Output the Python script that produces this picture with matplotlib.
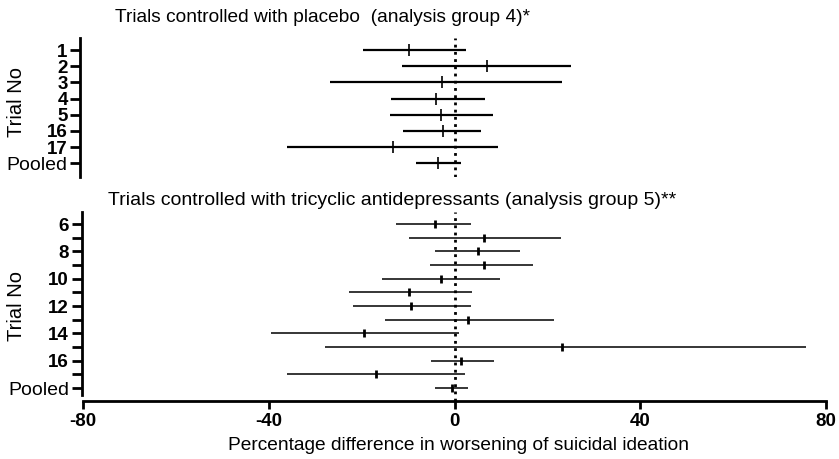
import matplotlib
matplotlib.use("Agg")
import matplotlib.pyplot as plt

# --------------------------------------------------------------------------- #
# Data (percentage difference, estimate with lower/upper limits)
# --------------------------------------------------------------------------- #

placebo_trials = ["1", "2", "3", "4", "5", "16", "17", "Pooled"]
placebo_est = [-9.7, 6.9, -2.6, -3.9, -3.0, -2.4, -13.2, -3.5]
placebo_low = [-19.7, -11.2, -26.8, -13.6, -13.8, -11.0, -36.0, -8.2]
placebo_high = [2.4, 25.0, 23.1, 6.5, 8.2, 5.8, 9.3, 1.3]

tca_trials = ["6", "7", "8", "9", "10", "11", "12", "13", "14", "15", "16", "17", "Pooled"]
tca_labels = ["6", "", "8", "", "10", "", "12", "", "14", "", "16", "", "Pooled"]
tca_est = [-4.3, 6.3, 5.0, 6.3, -2.8, -9.9, -9.3, 2.8, -19.4, 23.1, 1.5, -16.8, -0.6]
tca_low = [-12.7, -9.9, -4.3, -5.2, -15.6, -22.7, -21.8, -14.9, -39.5, -27.9, -5.0, -36.0, -4.1]
tca_high = [3.5, 22.9, 14.0, 17.0, 9.9, 3.7, 3.5, 21.4, 0.9, 75.8, 8.4, 2.2, 2.8]

xticks = [-80, -40, 0, 40, 80]

# --------------------------------------------------------------------------- #
# Plotting
# --------------------------------------------------------------------------- #

plt.rcParams["font.family"] = ["Liberation Sans", "DejaVu Sans"]

W, H = 839, 459
fig = plt.figure(figsize=(W / 100, H / 100), dpi=100)


def px_axes(left, top, right, bottom):
    return fig.add_axes([left / W, 1 - bottom / H, (right - left) / W, (bottom - top) / H])


def forest(ax, labels, est, low, high, lw, ms, mew):
    rows = list(range(len(est)))
    ax.hlines(rows, low, high, color="black", lw=lw)
    ax.plot(est, rows, ls="none", marker="|", ms=ms, mew=mew, color="black")
    ax.axvline(0, color="black", ls=(0, (1, 1.6)), lw=2.0)
    ax.set_xlim(-80, 80)
    ax.tick_params(axis="y", length=7, width=2, pad=2, labelsize=13.5)
    ax.set_yticks(rows)
    ax.set_yticklabels(labels, fontsize=13.5)
    ax.spines["left"].set_linewidth(2)
    for s in ["top", "right"]:
        ax.spines[s].set_visible(False)


def style_labels(ax):
    # digits bold, "Pooled" in regular weight and a touch larger
    for t in ax.get_yticklabels():
        if t.get_text() == "Pooled":
            t.set_fontsize(14)
            t.set_fontweight("normal")
        else:
            t.set_fontweight("bold")


# top panel: placebo
ax1 = px_axes(83, 38, 826, 177)
forest(ax1, placebo_trials, placebo_est, placebo_low, placebo_high, lw=1.6, ms=9, mew=1.2)
ax1.set_ylim(7.85, -0.75)
ax1.spines["bottom"].set_visible(False)
ax1.set_xticks([])
ax1.spines["left"].set_position(("outward", 2))
style_labels(ax1)

# bottom panel: tricyclic antidepressants
ax2 = px_axes(83, 212, 826, 401)
forest(ax2, tca_labels, tca_est, tca_low, tca_high, lw=1.1, ms=6, mew=2.0)
ax2.set_ylim(12.95, -0.88)
ax2.spines["left"].set_bounds(12.5, -0.88)
ax2.spines["left"].set_position(("outward", 1))
ax2.spines["bottom"].set_linewidth(2)
ax2.tick_params(axis="x", length=6, width=2, pad=3)
ax2.set_xticks(xticks)
ax2.set_xticklabels([str(v) for v in xticks], fontsize=13.5, fontweight="bold")
style_labels(ax2)

# titles and labels
fig.text(115 / W, 1 - 17 / H, "Trials controlled with placebo  (analysis group 4)*",
         fontsize=13.8, ha="left", va="center")
fig.text(108 / W, 1 - 200 / H,
         "Trials controlled with tricyclic antidepressants (analysis group 5)**",
         fontsize=14, ha="left", va="center")
fig.text(16 / W, 1 - 102 / H, "Trial No", rotation=90, fontsize=14.5, ha="center", va="center")
fig.text(16 / W, 1 - 306 / H, "Trial No", rotation=90, fontsize=14.5, ha="center", va="center")
fig.text(459 / W, 1 - 446 / H, "Percentage difference in worsening of suicidal ideation",
         fontsize=13.8, ha="center", va="center")

fig.savefig("out.png", dpi=100)
